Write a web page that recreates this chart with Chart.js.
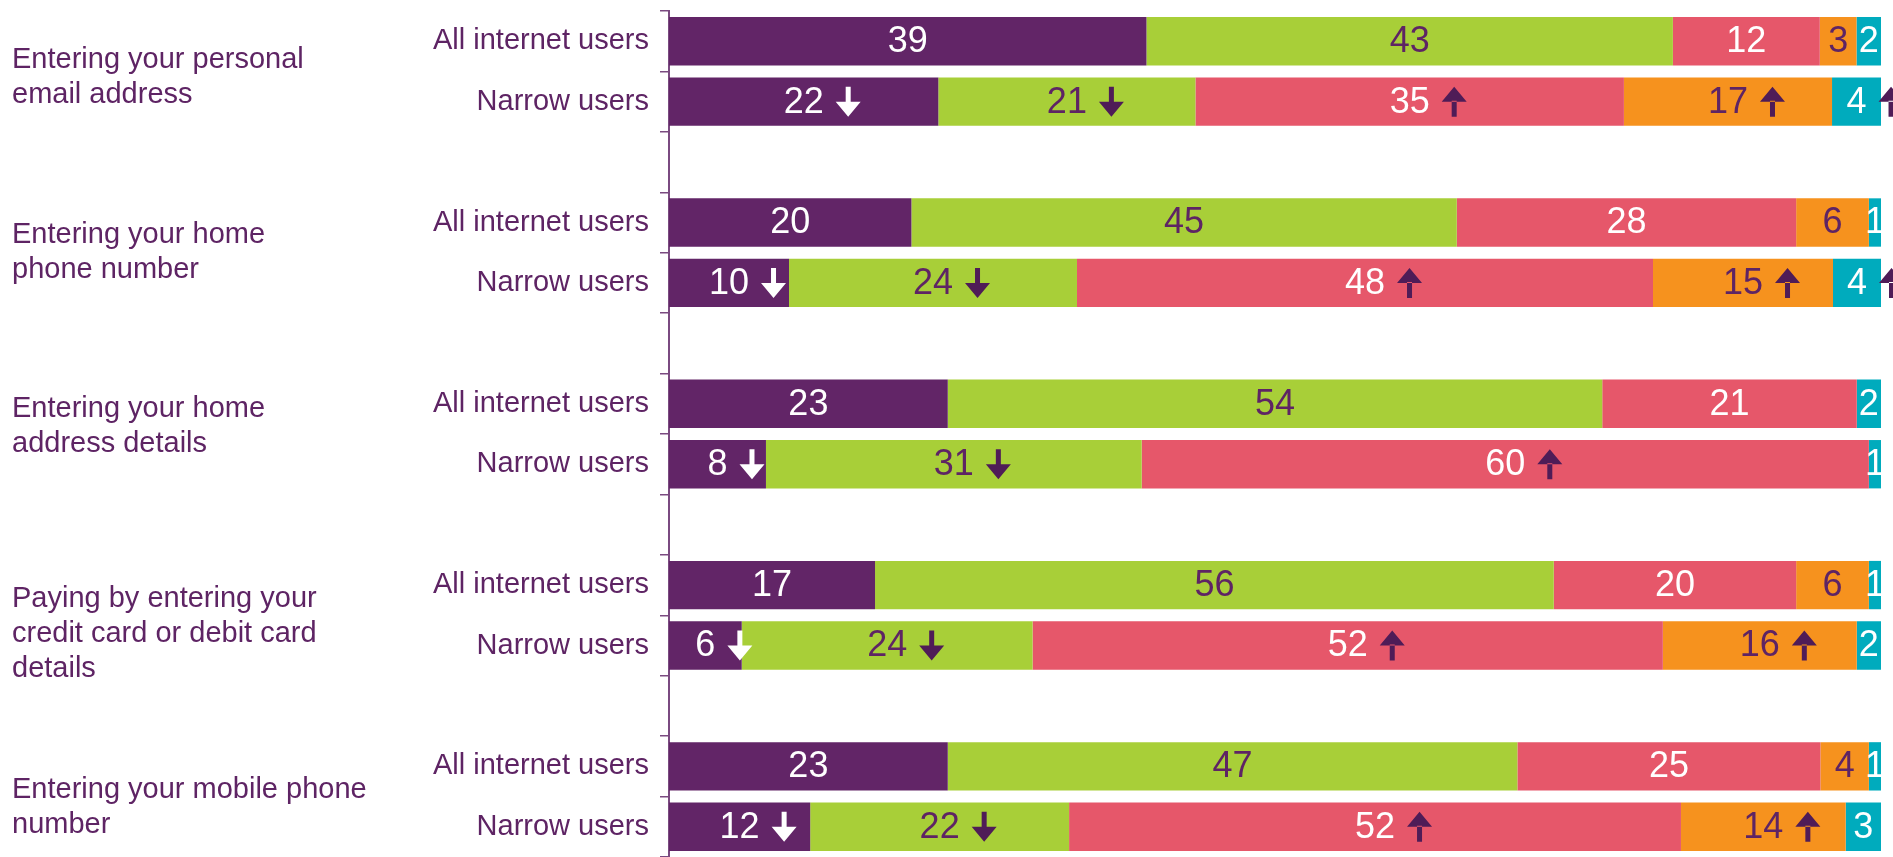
<!DOCTYPE html>
<html>
<head>
<meta charset="utf-8">
<script src="https://cdn.jsdelivr.net/npm/chart.js@4/dist/chart.umd.min.js"></script>
<style>
    html, body { margin: 0; padding: 0; background: #fff; }
    #wrap { width: 1893px; height: 857px; }
</style>
</head>
<body>
<div id="wrap"><canvas id="comfortChart" width="1893" height="857"></canvas></div>
<script>
// question groups, each has an "All internet users" row and a "Narrow users" row
const groupLabels = [
    ['Entering your personal', 'email address'],
    ['Entering your home', 'phone number'],
    ['Entering your home', 'address details'],
    ['Paying by entering your', 'credit card or debit card', 'details'],
    ['Entering your mobile phone', 'number']
];
const rowLabels = ['All internet users', 'Narrow users'];

// values per row: g1 all, g1 narrow, g2 all, g2 narrow, ...
const purpleValues = [39, 22, 20, 10, 23, 8, 17, 6, 23, 12];
const greenValues = [43, 21, 45, 24, 54, 31, 56, 24, 47, 22];
const redValues = [12, 35, 28, 48, 21, 60, 20, 52, 25, 52];
const orangeValues = [3, 17, 6, 15, 0, 0, 6, 16, 4, 14];
const tealValues = [2, 4, 1, 4, 2, 1, 1, 2, 1, 3];

// significance arrows shown next to the narrow users figures
const purpleSig = [null, 'down', null, 'down', null, 'down', null, 'down', null, 'down'];
const greenSig = [null, 'down', null, 'down', null, 'down', null, 'down', null, 'down'];
const redSig = [null, 'up', null, 'up', null, 'up', null, 'up', null, 'up'];
const orangeSig = [null, 'up', null, 'up', null, null, null, 'up', null, 'up'];
const tealSig = [null, 'up', null, 'up', null, null, null, null, null, null];

const textPurple = '#5e2464';
const arrowPurple = '#4f1c57';
const fontFamily = '"Liberation Sans", Arial, Helvetica, sans-serif';
// the group titles are not exactly centred on their bars in the original
const titleNudge = [6, 0, -8, 19, 11];

const seriesList = [
    { values: purpleValues, sig: purpleSig, color: '#622567', text: '#ffffff', arrow: '#ffffff' },
    { values: greenValues, sig: greenSig, color: '#a8cf38', text: textPurple, arrow: arrowPurple },
    { values: redValues, sig: redSig, color: '#e6576a', text: '#ffffff', arrow: arrowPurple },
    { values: orangeValues, sig: orangeSig, color: '#f6921e', text: textPurple, arrow: arrowPurple },
    { values: tealValues, sig: tealSig, color: '#00abbd', text: '#ffffff', arrow: arrowPurple }
];

// spread the rows over category slots, with an empty slot between groups
const slotOf = function (row) {
    return Math.floor(row / 2) * 3 + (row % 2);
};
const slotCount = slotOf(purpleValues.length - 1) + 1;

const labels = [];
for (let s = 0; s < slotCount; s++) {
    labels.push(s % 3 === 2 ? '' : rowLabels[s % 3]);
}

const rowTotals = purpleValues.map(function (v, i) {
    return seriesList.reduce(function (sum, ser) { return sum + ser.values[i]; }, 0);
});

const datasets = seriesList.map(function (ser, k) {
    const data = new Array(slotCount).fill(null);
    const raw = new Array(slotCount).fill(null);
    const sig = new Array(slotCount).fill(null);
    ser.values.forEach(function (v, i) {
        const s = slotOf(i);
        data[s] = v / rowTotals[i] * 100;  // 100% stacked
        raw[s] = v;
        sig[s] = ser.sig[i];
    });
    return {
        label: 'Response ' + (k + 1),
        data: data,
        raw: raw,
        sig: sig,
        textColor: ser.text,
        arrowColor: ser.arrow,
        backgroundColor: ser.color,
        borderWidth: 0,
        barPercentage: 0.8,
        categoryPercentage: 1.0
    };
});

function drawArrow(ctx, x, y, dir, color) {
    const h = 30, headW = 25, headH = 15, shaft = 5;
    ctx.save();
    ctx.fillStyle = color;
    ctx.beginPath();
    if (dir === 'down') {
        ctx.rect(x - shaft / 2, y - h / 2, shaft, h - headH + 1);
        ctx.moveTo(x - headW / 2, y + h / 2 - headH);
        ctx.lineTo(x + headW / 2, y + h / 2 - headH);
        ctx.lineTo(x, y + h / 2);
    } else {
        ctx.rect(x - shaft / 2, y - h / 2 + headH - 1, shaft, h - headH + 1);
        ctx.moveTo(x - headW / 2, y - h / 2 + headH);
        ctx.lineTo(x + headW / 2, y - h / 2 + headH);
        ctx.lineTo(x, y - h / 2);
    }
    ctx.closePath();
    ctx.fill();
    ctx.restore();
}

const valueLabels = {
    id: 'valueLabels',
    afterDatasetsDraw: function (chart) {
        const ctx = chart.ctx;
        ctx.save();
        ctx.font = '36px ' + fontFamily;
        ctx.textBaseline = 'middle';
        ctx.textAlign = 'center';
        chart.data.datasets.forEach(function (ds, di) {
            const meta = chart.getDatasetMeta(di);
            meta.data.forEach(function (bar, i) {
                const v = ds.raw[i];
                if (!v) return;
                const cx = (bar.x + bar.base) / 2;
                const txt = String(v);
                ctx.fillStyle = ds.textColor;
                ctx.fillText(txt, cx, bar.y + 1);
                if (ds.sig[i]) {
                    const w = ctx.measureText(txt).width;
                    drawArrow(ctx, cx + w / 2 + 12 + 12.5, bar.y, ds.sig[i], ds.arrowColor);
                }
            });
        });
        ctx.restore();
    }
};

const groupTitles = {
    id: 'groupTitles',
    afterDraw: function (chart) {
        const ctx = chart.ctx;
        const y = chart.scales.y;
        const lineH = 35;
        ctx.save();
        ctx.font = '29px ' + fontFamily;
        ctx.fillStyle = textPurple;
        ctx.textAlign = 'left';
        ctx.textBaseline = 'middle';
        groupLabels.forEach(function (lines, g) {
            const mid = (y.getPixelForValue(g * 3) + y.getPixelForValue(g * 3 + 1)) / 2 + titleNudge[g];
            const top = mid - (lines.length - 1) * lineH / 2;
            lines.forEach(function (line, j) {
                ctx.fillText(line, 12, top + j * lineH);
            });
        });
        ctx.restore();
    }
};

const chart = new Chart(document.getElementById('comfortChart'), {
    type: 'bar',
    data: { labels: labels, datasets: datasets },
    options: {
        indexAxis: 'y',
        responsive: false,
        devicePixelRatio: 1,
        animation: false,
        layout: { padding: { top: 11, right: 12, bottom: 0, left: 0 } },
        plugins: {
            legend: { display: false },
            tooltip: { enabled: false }
        },
        scales: {
            x: {
                stacked: true,
                min: 0,
                max: 100,
                display: false
            },
            y: {
                stacked: true,
                afterFit: function (scale) {
                    scale.width = 669;
                    scale.paddingTop = 0;
                    scale.paddingBottom = 0;
                },
                grid: {
                    offset: true,
                    drawOnChartArea: false,
                    color: '#7a4a80',
                    lineWidth: 1.5,
                    tickLength: 9
                },
                border: { color: '#7a4a80', width: 2 },
                ticks: {
                    padding: 11,
                    color: textPurple,
                    font: { family: fontFamily, size: 29 }
                }
            }
        }
    },
    plugins: [valueLabels, groupTitles]
});
</script>
</body>
</html>
